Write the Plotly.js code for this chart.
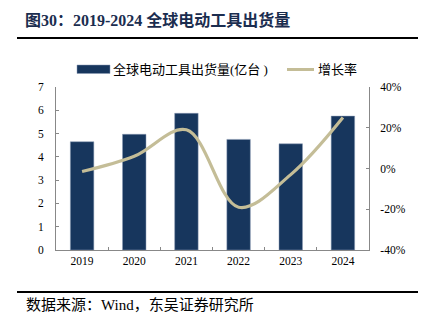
<!DOCTYPE html>
<html><head><meta charset="utf-8">
<script src="https://cdn.plot.ly/plotly-3.0.1.min.js"></script>
<style>html,body{margin:0;padding:0;background:#fff}#c{width:424px;height:328px}</style>
</head><body><div id="c"></div>
<script>
var years = ['2019','2020','2021','2022','2023','2024'];
var shipments = [4.65, 4.97, 5.87, 4.75, 4.56, 5.75];
var growth = [-1.5, 6, 19, -19, -3, 25];
var leftTicks = [0,1,2,3,4,5,6,7];
var rightTicks = [-40,-20,0,20,40];
var rightTickText = ['-40%','-20%','0%','20%','40%'];
var seriesNames = ['全球电动工具出货量(亿台 )', '增长率'];

var serif = '"Liberation Serif", "Noto Sans CJK SC", serif';
var cjk = '"Liberation Serif", "Noto Sans CJK SC", sans-serif';
var barColor = '#17365d', lineColor = '#c4bd97';

// plot area in pixels: x 56..369, y 87..250
function px(x){ return (x-56)/313; }
function py(y){ return (250-y)/163; }

var data = [
  {type:'bar', x:years, y:shipments, name:seriesNames[0],
   marker:{color:barColor, line:{color:'#8a9bb5', width:0.5}}, width:0.45, yaxis:'y'},
  {type:'scatter', mode:'lines', x:years, y:growth, name:seriesNames[1], yaxis:'y2',
   line:{color:lineColor, width:3.2, shape:'spline', smoothing:1}}
];
var layout = {
  width:424, height:328,
  margin:{l:56, r:55, t:87, b:78},
  paper_bgcolor:'#fff', plot_bgcolor:'#fff',
  showlegend:false,
  xaxis:{type:'category', showline:true, linecolor:'#888', linewidth:1, ticks:'inside', tickson:'boundaries',
    ticklen:3, tickcolor:'#888', tickfont:{family:serif, size:11.5, color:'#000'}, showgrid:false, zeroline:false},
  yaxis:{range:[0,7], tickvals:leftTicks, showline:true, linecolor:'#888', linewidth:1, ticks:'inside', ticklen:3,
    tickcolor:'#888', tickfont:{family:serif, size:11.5, color:'#000'}, showgrid:false, zeroline:false, ticklabelstandoff:9},
  yaxis2:{range:[-40,40], overlaying:'y', side:'right', tickvals:rightTicks, ticktext:rightTickText,
    showline:true, linecolor:'#888', linewidth:1, ticks:'inside', ticklen:3, tickcolor:'#888',
    tickfont:{family:serif, size:11.5, color:'#000'}, showgrid:false, zeroline:false, ticklabelstandoff:8},
  title:{text:'<b>图30：2019-2024 全球电动工具出货量</b>', x:25/424, xanchor:'left', xref:'container', y:1-20/328, yanchor:'middle', yref:'container',
    font:{family:cjk, size:16, color:'#1b2d4f'}},
  shapes:[
    {type:'line', xref:'paper', yref:'paper', x0:px(17), x1:px(418), y0:py(38), y1:py(38), line:{color:'#000', width:2}},
    {type:'line', xref:'paper', yref:'paper', x0:px(17), x1:px(418), y0:py(292), y1:py(292), line:{color:'#000', width:2}},
    {type:'rect', xref:'paper', yref:'paper', x0:px(77), x1:px(110), y0:py(73.5), y1:py(65), fillcolor:barColor, line:{color:'#8a9bb5', width:0.5}},
    {type:'line', xref:'paper', yref:'paper', x0:px(287), x1:px(314), y0:py(69.5), y1:py(69.5), line:{color:lineColor, width:3}}
  ],
  annotations:[
    {text:seriesNames[0], xref:'paper', yref:'paper', x:px(111), xanchor:'left', y:py(69.5), yanchor:'middle',
     showarrow:false, font:{family:cjk, size:13, color:'#000'}},
    {text:seriesNames[1], xref:'paper', yref:'paper', x:px(316), xanchor:'left', y:py(69.5), yanchor:'middle',
     showarrow:false, font:{family:cjk, size:13, color:'#000'}},
    {text:'数据来源：Wind，东吴证券研究所', xref:'paper', yref:'paper', x:px(24), xanchor:'left', y:py(305), yanchor:'middle',
     showarrow:false, font:{family:cjk, size:15, color:'#000'}}
  ]
};
Plotly.newPlot('c', data, layout, {displayModeBar:false, staticPlot:true});
</script></body></html>
